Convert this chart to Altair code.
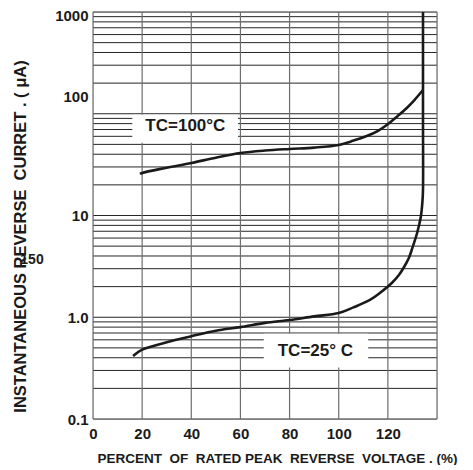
import altair as alt
import pandas as pd

# --- data ---
x_tc100 = [19.1, 20, 30, 40, 50, 60, 70, 80, 90, 100, 105, 111.4, 116, 120.1, 124, 127.7, 131, 134.3]
y_tc100 = [25.6, 26.2, 29.5, 32.8, 37.0, 41.1, 43.5, 45.1, 46.5, 49.3, 53.5, 60.4, 68.0, 79.3, 95.0, 114.0, 138.0, 171.0]

x_tc25 = [16.3, 20, 30, 40, 50, 60, 70, 80, 90, 100, 106, 112.7, 117, 121.6, 124.5, 126.6,
          128.5, 129.7, 131.9, 133.4, 134.1, 134.3, 134.3, 134.3]
y_tc25 = [0.416, 0.48, 0.567, 0.65, 0.738, 0.80, 0.88, 0.94, 1.02, 1.10, 1.25, 1.48, 1.75, 2.17, 2.6, 3.12,
          3.8, 4.58, 6.73, 9.67, 14.0, 18.0, 100.0, 1000.0]

x_ticks = [0, 20, 40, 60, 80, 100, 120]
y_ticks = [0.1, 1, 10, 100, 1000]
x_grid = [0, 20, 40, 60, 80, 100, 120, 140]
y_grid = [m * d for d in [0.1, 1, 10, 100] for m in range(1, 10)] + [1000]

labels = ["TC=100°C", "TC=25° C"]
label_x = [37.6, 90.5]
label_y = [75.0, 0.47]
box_x = [16.0, 69.5]
box_x2 = [59.0, 112.0]
box_y = [52.0, 0.32]
box_y2 = [98.0, 0.69]

W, H = 344, 407
FONT = "Liberation Sans Narrow, Arial Narrow, Liberation Sans, Arial, sans-serif"
INK = "#1a1a1a"
NB = "\u00a0"

xs = alt.Scale(domain=[0, 140], nice=False, zero=False)
ys = alt.Scale(type="log", domain=[0.1, 1000], nice=False)

ax_x = alt.Axis(values=x_ticks, grid=False, ticks=False, domain=False,
                labelFont=FONT, labelFontWeight="bold", labelFontSize=15, labelColor=INK,
                labelPadding=7, labelFlush=False, labelAngle=0, labelOverlap=False,
                title=f"PERCENT{NB} OF{NB} RATED PEAK{NB} REVERSE{NB} VOLTAGE . (%)",
                titleFont=FONT, titleFontSize=13.5, titleFontWeight="bold", titleColor=INK,
                titleX=184, titleY=43, titleAlign="center", titleBaseline="alphabetic")
ax_y = alt.Axis(values=y_ticks, grid=False, ticks=False, domain=False,
                labelExpr="datum.value == 1 ? '1.0' : (datum.value < 0.5 ? '0.1' : format(datum.value, 'd'))",
                labelFont=FONT, labelFontWeight="bold", labelFontSize=15, labelColor=INK,
                labelPadding=5, labelFlush=False, labelOverlap=False,
                labelOffset={"condition": [
                    {"test": "datum.value == 100", "value": -17},
                    {"test": "datum.value == 1000", "value": 3},
                ], "value": 0},
                title=f"INSTANTANEOUS REVERSE{NB} CURRET . ( μA)",
                titleFont=FONT, titleFontSize=16.5, titleFontWeight="bold", titleColor=INK,
                titleAngle=270, titleX=-68, titleY=224, titleAlign="center", titleBaseline="alphabetic")

X = lambda f: alt.X(f, type="quantitative", scale=xs, axis=ax_x)
Y = lambda f: alt.Y(f, type="quantitative", scale=ys, axis=ax_y)

hgrid = pd.DataFrame({"y": y_grid})
vgrid = pd.DataFrame({"x": x_grid})
curves = pd.concat([
    pd.DataFrame({"x": x_tc100, "y": y_tc100, "s": "TC100", "i": range(len(x_tc100))}),
    pd.DataFrame({"x": x_tc25, "y": y_tc25, "s": "TC25", "i": range(len(x_tc25))}),
])
boxes = pd.DataFrame({"x": box_x, "x2": box_x2, "y": box_y, "y2": box_y2})
texts = pd.DataFrame({"x": label_x, "y": label_y, "t": labels})

h_layer = alt.Chart(hgrid).mark_rule(color="#262626", strokeWidth=1).encode(
    y=Y("y"), x=alt.value(0), x2=alt.value(W))
v_layer = alt.Chart(vgrid).mark_rule(color="#6e6e6e", strokeWidth=1.2).encode(
    x=X("x"), y=alt.value(0), y2=alt.value(H))
box_layer = alt.Chart(boxes).mark_rect(color="white").encode(
    x=X("x"), x2="x2", y=Y("y"), y2="y2")
line_layer = alt.Chart(curves).mark_line(color=INK, strokeWidth=2.6, interpolate="catmull-rom").encode(
    x=X("x"), y=Y("y"), detail="s:N", order="i:Q")
text_layer = alt.Chart(texts).mark_text(font=FONT, fontSize=17, fontWeight="bold", color=INK,
                                        align="center", baseline="middle").encode(
    x=X("x"), y=Y("y"), text="t:N")
stray = alt.Chart(pd.DataFrame({"t": ["150"]})).mark_text(
    font=FONT, fontSize=14, fontWeight="bold", color=INK, align="center", baseline="middle").encode(
    x=alt.value(-61), y=alt.value(248), text="t:N")

chart = alt.layer(h_layer, v_layer, box_layer, line_layer, text_layer, stray).properties(
    width=W, height=H,
    autosize=alt.AutoSizeParams(type="none"),
    padding={"left": 85, "top": 4, "right": 27, "bottom": 46},
).configure_view(stroke=None).configure(background="white")

chart.save("out.html", embed_options={"renderer": "svg", "actions": False})
